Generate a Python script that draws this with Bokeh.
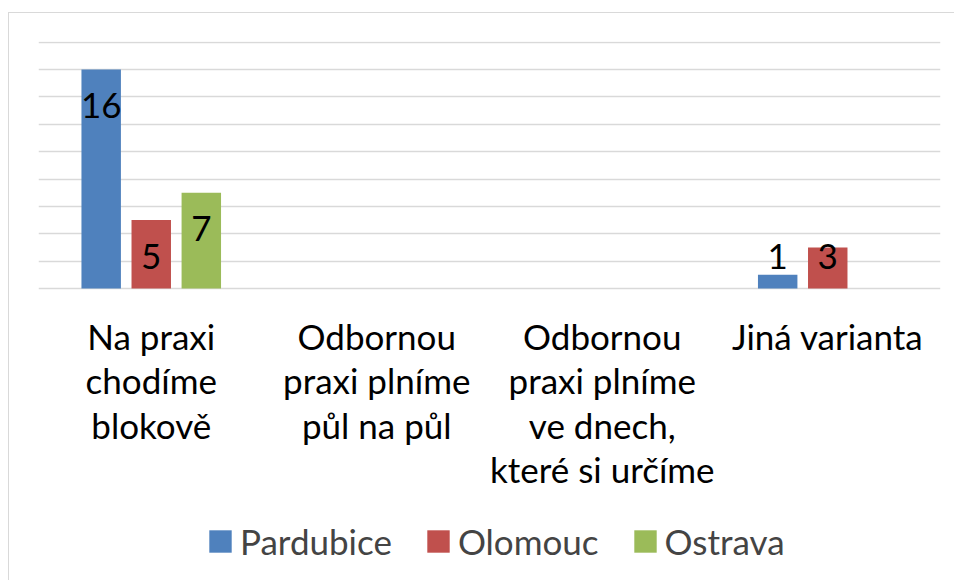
from bokeh.plotting import figure
from bokeh.models import (ColumnDataSource, FactorRange, Range1d, FixedTicker, Grid,
                          Legend, LegendItem)
from bokeh.transform import dodge
from bokeh.core.properties import value
from bokeh.embed import file_html
from bokeh.resources import INLINE

# ---- data ----
categories = ["Na praxi chodíme blokově",
              "Odbornou praxi plníme půl na půl",
              "Odbornou praxi plníme ve dnech, které si určíme",
              "Jiná varianta"]
tick_labels = ["Na praxi\nchodíme\nblokově",
               "Odbornou\npraxi plníme\npůl na půl",
               "Odbornou\npraxi plníme\nve dnech,\nkteré si určíme",
               "Jiná varianta"]
series_names = ["Pardubice", "Olomouc", "Ostrava"]
pardubice = [16, 0, 0, 1]
olomouc = [5, 0, 0, 3]
ostrava = [7, 0, 0, 0]
colors = ["#4F81BD", "#C0504D", "#9BBB59"]
y_ticks = [0, 2, 4, 6, 8, 10, 12, 14, 16, 18]

FONT = "Lato"

p = figure(width=946, height=568, output_backend="svg", toolbar_location=None,
           x_range=FactorRange(factors=categories, range_padding=0),
           y_range=Range1d(-21.41, 18.05),
           x_axis_location=None, y_axis_location=None,
           min_border_left=29, min_border_right=15, min_border_top=28, min_border_bottom=0,
           background_fill_color="white", border_fill_color="white",
           styles={"margin-left": "8px", "margin-top": "12px",
                   "border-left": "1px solid #d9d9d9", "border-top": "1px solid #d9d9d9"})
p.outline_line_color = None
p.xgrid.visible = False
p.ygrid.visible = False

grid = Grid(dimension=1, ticker=FixedTicker(ticks=y_ticks),
            grid_line_color="#d9d9d9", grid_line_width=1.5)
p.add_layout(grid, "center")

offsets = [-0.222, 0.0, 0.222]
values = [pardubice, olomouc, ostrava]
legend_items = []
for name, vals, col, off in zip(series_names, values, colors, offsets):
    src = ColumnDataSource(dict(cat=categories, v=vals))
    r = p.vbar(x=dodge("cat", off, range=p.x_range), top="v", bottom=0, width=0.175,
               source=src, fill_color=col, line_color=None)
    legend_items.append(LegendItem(label=name, renderers=[r]))
    lc = [c for c, v in zip(categories, vals) if v]
    lv = [v for v in vals if v]
    ly = [max(v, 5) - 2.65 for v in lv]
    lsrc = ColumnDataSource(dict(cat=lc, y=ly, t=[str(v) for v in lv]))
    p.text(x=dodge("cat", off, range=p.x_range), y="y", text="t", source=lsrc,
           text_align="center", text_baseline="middle",
           text_font=value(FONT), text_font_size="35px", text_color="black")

csrc = ColumnDataSource(dict(cat=categories, t=tick_labels, y=[0] * len(categories)))
p.text(x="cat", y="y", text="t", source=csrc, y_offset=26,
       text_align="center", text_baseline="top", text_line_height=1.06,
       text_font=value(FONT), text_font_size="35px", text_color="black")

legend = Legend(items=legend_items, orientation="horizontal", location=(168, 19),
                padding=0, margin=0, spacing=32, label_standoff=6,
                glyph_width=28, glyph_height=28,
                label_text_font=FONT, label_text_font_size="35px",
                border_line_color=None, background_fill_alpha=0)
p.add_layout(legend, "center")

open("out.html", "w").write(file_html(p, INLINE))
